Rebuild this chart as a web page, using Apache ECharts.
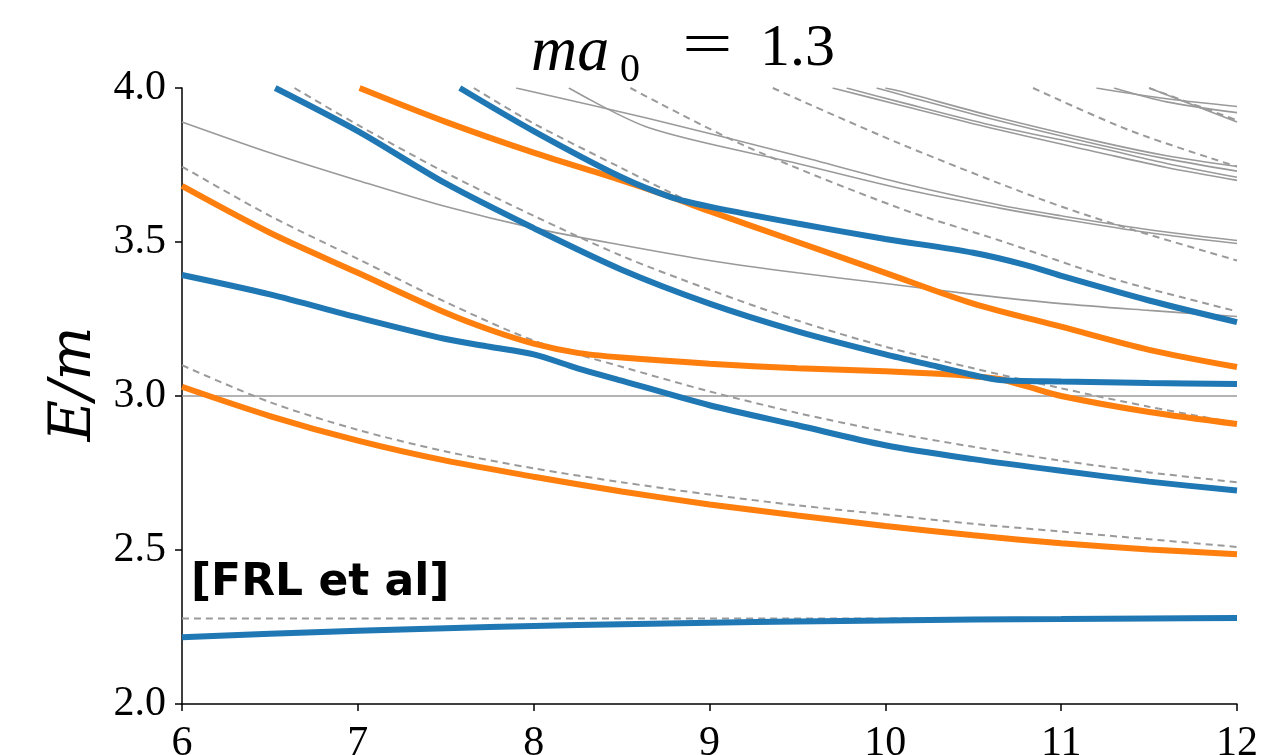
<!DOCTYPE html>
<html>
<head>
<meta charset="utf-8">
<script src="https://cdn.jsdelivr.net/npm/echarts@6/dist/echarts.min.js"></script>
<style>html,body{margin:0;padding:0;background:#fff}#c{width:1271px;height:755px}</style>
</head>
<body>
<div id="c"></div>
<script>
// ---- axis ----
const xTicks = [6, 7, 8, 9, 10, 11, 12];
const yTicks = [2.0, 2.5, 3.0, 3.5, 4.0];

// ---- blue levels ----
const blue1 = [[6,2.217],[6.5,2.228],[7,2.238],[7.5,2.246],[8,2.253],[8.5,2.259],[9,2.264],[9.5,2.268],[10,2.271],[10.5,2.274],[11,2.276],[11.5,2.278],[12,2.279]];
const blue2 = [[6,3.393],[6.5,3.33],[7,3.255],[7.5,3.185],[7.75,3.16],[8,3.135],[8.25,3.09],[8.5,3.05],[9,2.97],[9.5,2.905],[10,2.84],[10.5,2.795],[11,2.757],[11.5,2.722],[12,2.693]];
const blue3 = [[6.53,4.0],[7,3.86],[7.5,3.69],[8,3.545],[8.5,3.41],[9,3.30],[9.5,3.21],[10,3.135],[10.3,3.095],[10.5,3.068],[10.65,3.052],[11,3.047],[11.5,3.042],[12,3.039]];
const blue4 = [[7.58,4.0],[8,3.86],[8.5,3.71],[8.78,3.646],[9,3.615],[9.5,3.56],[10,3.51],[10.5,3.465],[10.8,3.425],[11,3.39],[11.5,3.31],[12,3.24]];

// ---- orange levels ----
const orange1 = [[6,3.03],[6.5,2.935],[7,2.855],[7.5,2.79],[8,2.738],[8.5,2.69],[9,2.648],[9.5,2.612],[10,2.578],[10.5,2.548],[11,2.522],[11.5,2.502],[12,2.486]];
const orange2 = [[6,3.682],[6.5,3.53],[7,3.40],[7.5,3.27],[7.75,3.215],[8,3.17],[8.25,3.14],[8.5,3.125],[9,3.105],[9.5,3.09],[10,3.08],[10.3,3.072],[10.5,3.064],[10.65,3.055],[10.8,3.032],[11,3.0],[11.5,2.948],[12,2.909]];
const orange3 = [[7.01,4.0],[7.5,3.89],[8,3.79],[8.5,3.70],[8.78,3.646],[9,3.60],[9.5,3.50],[10,3.40],[10.5,3.30],[11,3.225],[11.5,3.15],[12,3.094]];

// ---- non-interacting levels (dashed) ----
const free1 = [[6,2.278],[12,2.278]];
const free2 = [[6,3.10],[6.5,2.98],[7,2.89],[7.5,2.82],[8,2.765],[8.5,2.72],[9,2.68],[9.5,2.645],[10,2.615],[10.5,2.585],[11,2.56],[11.5,2.535],[12,2.51]];
const free3 = [[6,3.745],[6.5,3.585],[7,3.445],[7.5,3.305],[8,3.18],[8.5,3.095],[9,3.015],[9.5,2.945],[10,2.885],[10.5,2.835],[11,2.79],[11.5,2.752],[12,2.72]];
const free4 = [[6.64,4.0],[7,3.88],[7.5,3.725],[8,3.585],[8.5,3.455],[9,3.345],[9.5,3.245],[10,3.16],[10.5,3.09],[11,3.025],[11.5,2.965],[12,2.912]];
const free5 = [[7.66,4.0],[8,3.885],[8.5,3.74],[8.78,3.66],[9,3.603],[9.5,3.503],[10,3.403],[10.5,3.303],[11,3.228],[11.5,3.153],[12,3.097]];
const free6 = [[8.55,4.0],[9.21,3.81],[10.08,3.61],[10.65,3.505],[11.3,3.38],[12,3.275]];
const free7 = [[9.36,4.0],[10.08,3.82],[10.88,3.64],[11.32,3.555],[12,3.44]];
const free8 = [[10.84,4.0],[11.4,3.86],[12,3.745]];
const free9 = [[11.5,4.0],[12,3.895]];

// ---- other levels (thin grey) ----
const other0 = [[6,3.0],[12,3.0]];
const other1 = [[6,3.89],[6.5,3.79],[7,3.70],[7.5,3.615],[8,3.545],[8.5,3.49],[9,3.44],[9.5,3.40],[10,3.365],[10.5,3.33],[11,3.30],[11.5,3.278],[12,3.258]];
const other2 = [[7.9,4.0],[8.66,3.9],[9.5,3.78],[10.1,3.69],[10.65,3.62],[11,3.585],[11.5,3.54],[12,3.505]];
const other3 = [[8.2,4.0],[8.66,3.87],[9.5,3.755],[10.1,3.672],[10.65,3.61],[11,3.575],[11.5,3.53],[12,3.495]];
const other4 = [[9.7,4.0],[10.08,3.945],[10.6,3.87],[11.22,3.79],[11.6,3.742],[12,3.70]];
const other5 = [[9.78,4.0],[10.08,3.955],[10.6,3.88],[11.22,3.805],[11.6,3.755],[12,3.71]];
const other6 = [[9.95,4.0],[10.08,3.98],[10.6,3.90],[11.22,3.815],[11.6,3.77],[12,3.73]];
const other7 = [[10.0,4.0],[10.08,3.99],[10.6,3.91],[11.22,3.825],[11.6,3.78],[12,3.745]];
const other8 = [[11.2,4.0],[11.6,3.965],[12,3.94]];
const other9 = [[11.3,4.0],[11.6,3.955],[12,3.92]];
const other10 = [[11.5,4.0],[12,3.89]];

const BLUE = '#1f77b4', ORANGE = '#ff7f0e', GREY = '#9a9a9a';
const serif = "Liberation Serif";

function line(data, color, width, type, z) {
  return { type: 'line', data: data, showSymbol: false, smooth: 0.3,
    lineStyle: { color: color, width: width, type: type }, z: z, silent: true, animation: false, clip: true };
}

const series = [];
[other0, other1, other2, other3, other4, other5, other6, other7, other8, other9, other10].forEach(d => series.push(line(d, GREY, 1.6, 'solid', 2)));
[free1, free2, free3, free4, free5, free6, free7, free8, free9].forEach(d => series.push(line(d, GREY, 2, [7, 5], 3)));
[orange1, orange2, orange3].forEach(d => series.push(line(d, ORANGE, 6, 'solid', 4)));
[blue1, blue2, blue3, blue4].forEach(d => series.push(line(d, BLUE, 6, 'solid', 5)));

function label(text, x, y, font, sx) {
  return { type: 'text', x: x, y: y, scaleX: sx || 1, z: 10, silent: true,
    style: { text: text, font: font, fill: '#000' } };
}

const chart = echarts.init(document.getElementById('c'), null, { renderer: 'canvas' });
chart.setOption({
  animation: false,
  backgroundColor: '#fff',
  grid: { left: 182, right: 34, top: 88, bottom: 51, containLabel: false, outerBoundsMode: 'none' },
  xAxis: {
    type: 'value', min: xTicks[0], max: xTicks[xTicks.length - 1], interval: 1,
    axisLine: { lineStyle: { color: '#000', width: 1.5 } },
    axisTick: { length: 7, lineStyle: { color: '#000', width: 1.5 } },
    axisLabel: { fontFamily: serif, fontSize: 42, color: '#000', margin: 19,
      formatter: v => xTicks.includes(v) ? String(v) : '' },
    splitLine: { show: false }
  },
  yAxis: {
    type: 'value', min: yTicks[0], max: yTicks[yTicks.length - 1], interval: 0.5,
    axisLine: { lineStyle: { color: '#000', width: 1.5 } },
    axisTick: { length: 7, lineStyle: { color: '#000', width: 1.5 } },
    axisLabel: { fontFamily: serif, fontSize: 42, color: '#000', margin: 16,
      formatter: v => v.toFixed(1) },
    splitLine: { show: false }
  },
  graphic: [
    label('ma', 531, 21, "italic 64px 'Liberation Serif'"),
    label('0', 620, 50, "40px 'Liberation Serif'"),
    label('=', 682, 17, "62px 'Liberation Serif'", 1.45),
    label('1.3', 760, 19, "60px 'Liberation Serif'"),
    { type: 'text', x: 75, y: 384, rotation: Math.PI / 2, z: 10, silent: true,
      style: { text: 'E/m', font: "italic 57px 'DejaVu Serif'", fill: '#000', align: 'center', verticalAlign: 'middle' } },
    label('[FRL et al]', 191, 562, "bold 44px 'DejaVu Sans'")
  ],
  series: series
});
</script>
</body>
</html>
